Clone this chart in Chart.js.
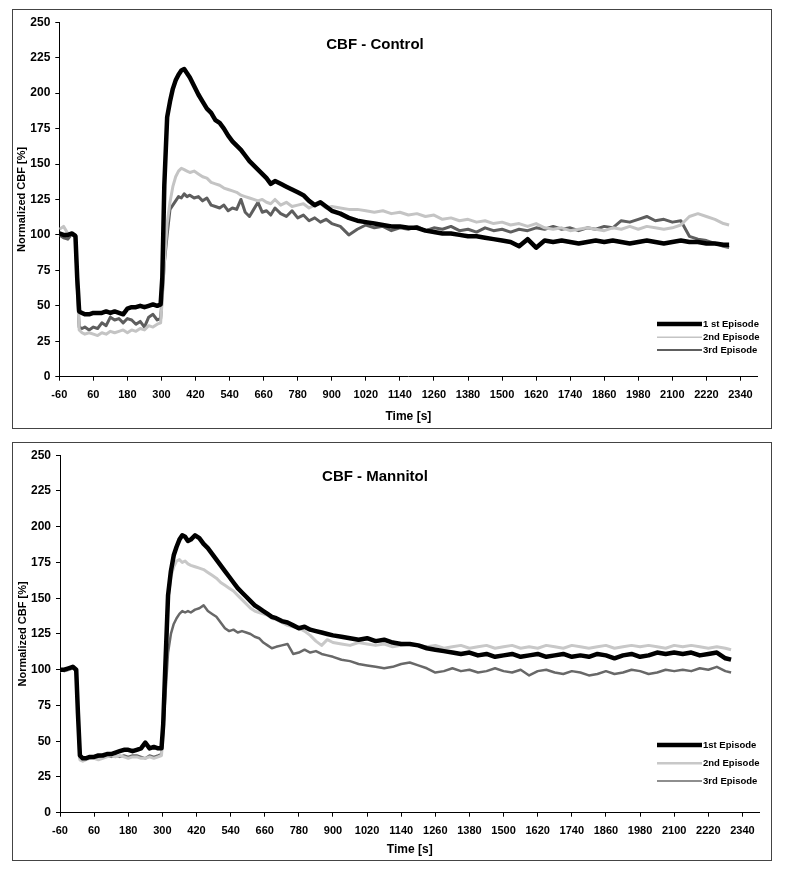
<!DOCTYPE html>
<html>
<head>
<meta charset="utf-8">
<script src="https://cdn.jsdelivr.net/npm/chart.js@4.4.1/dist/chart.umd.min.js"></script>
<style>
  body { margin: 0; background: #fff; width: 787px; height: 872px; position: relative; overflow: hidden; }
  .panel { position: absolute; left: 12px; width: 760px; border: 1px solid #444; box-sizing: border-box; background: #fff; }
  .panel canvas { display: block; }
</style>
</head>
<body>
<div class="panel" style="top:9px;height:420px"><canvas id="ctl" width="758" height="418"></canvas></div>
<div class="panel" style="top:442px;height:419px"><canvas id="man" width="758" height="417"></canvas></div>
<script>
// time axis shared by both panels (s)
const times = [
  -60, -45, -30, -15, -3, 3, 10, 20, 30, 45, 60, 75, 90, 105, 120, 135, 150, 165, 180, 195, 210, 225, 240, 255, 270, 285, 297, 303,
  310, 320, 330, 340, 350, 360, 370, 380, 390, 400, 415, 430, 445, 460, 475, 490, 505, 520, 535, 550,
  565, 580, 595, 610, 625, 640, 655, 670, 685, 700, 720, 740, 760, 780, 800, 820, 840, 860, 880, 900,
  930, 960, 990, 1020, 1050, 1080, 1110, 1140, 1170, 1200, 1230, 1260, 1290, 1320, 1350, 1380, 1410, 1440, 1470, 1500,
  1530, 1560, 1590, 1620, 1650, 1680, 1710, 1740, 1770, 1800, 1830, 1860, 1890, 1920, 1950, 1980, 2010, 2040, 2070, 2100,
  2130, 2160, 2190, 2220, 2250, 2280, 2300
];

const xTicks = [-60, 60, 180, 300, 420, 540, 660, 780, 900, 1020, 1140, 1260, 1380, 1500, 1620, 1740, 1860, 1980, 2100, 2220, 2340];
const yTicks = [0, 25, 50, 75, 100, 125, 150, 175, 200, 225, 250];

const ctlLabels = ['1 st Episode', '2nd Episode', '3rd Episode'];
const manLabels = ['1st Episode', '2nd Episode', '3rd Episode'];

// CBF - Control
const ctl1 = [
  101, 100, 100, 101, 99, 70, 46, 45, 44, 44, 45, 45, 45, 46, 45, 46, 45, 44, 48, 49, 49, 50, 49, 50, 51, 50, 51, 70,
  135, 183, 194, 203, 209, 213, 216, 217, 214, 211, 205, 199, 194, 189, 186, 181, 179, 175, 170, 166,
  163, 160, 156, 152, 149, 146, 143, 140, 136, 138, 136, 134, 132, 130, 128, 124, 121, 123, 120, 117,
  115, 112, 110, 109, 108, 107, 106, 106, 105, 105, 103, 102, 101, 101, 100, 99, 99, 98, 97, 96,
  95, 92, 97, 91, 96, 95, 96, 95, 94, 95, 96, 95, 96, 95, 94, 95, 96, 95, 94, 95,
  96, 95, 95, 94, 94, 93, 93
];
const ctl2 = [
  104, 106, 101, 100, 99, 65, 33, 31, 30, 31, 30, 29, 31, 30, 32, 31, 32, 33, 31, 33, 32, 34, 33, 36, 35, 37, 38, 55,
  80, 108, 123, 134, 141, 145, 147, 146, 145, 144, 145, 143, 141, 140, 137, 136, 135, 133, 132, 131,
  130, 128, 127, 126, 125, 124, 125, 123, 122, 125, 121, 123, 120, 121, 122, 119, 121, 122, 119, 120,
  119, 118, 118, 117, 116, 117, 115, 116, 114, 115, 113, 114, 111, 112, 110, 111, 109, 110, 108, 109,
  107, 108, 106, 108, 105, 104, 105, 103, 104, 105, 104, 103, 105, 104, 106, 104, 106, 105, 104, 105,
  107, 113, 115, 113, 111, 108, 107
];
const ctl3 = [
  100, 98, 97, 101, 100, 66, 35, 34, 35, 33, 35, 34, 38, 36, 42, 40, 41, 38, 41, 40, 37, 39, 35, 42, 44, 40, 41, 58,
  80, 100, 118, 121, 124, 127, 126, 129, 127, 128, 126, 127, 124, 126, 121, 120, 119, 121, 117, 119,
  118, 125, 116, 113, 118, 123, 116, 117, 114, 119, 115, 113, 117, 112, 114, 110, 112, 109, 111, 108,
  106, 100, 104, 107, 105, 106, 103, 105, 104, 106, 103, 105, 104, 106, 103, 104, 102, 105, 103, 104,
  102, 104, 103, 105, 104, 106, 104, 105, 103, 105, 104, 106, 105, 110, 109, 111, 113, 110, 111, 109,
  110, 99, 97, 96, 94, 92, 91
];

// CBF - Mannitol
const man1 = [
  100, 100, 101, 102, 100, 70, 40, 38, 38, 39, 39, 40, 40, 41, 41, 42, 43, 44, 44, 43, 44, 45, 49, 45, 46, 45, 45, 62,
  100, 152, 169, 180, 186, 191, 194, 193, 190, 191, 194, 192, 188, 185, 181, 177, 173, 169, 165, 161,
  157, 154, 151, 148, 145, 143, 141, 139, 137, 136, 134, 133, 131, 129, 130, 128, 127, 126, 125, 124,
  123, 122, 121, 122, 120, 121, 119, 118, 118, 117, 115, 114, 113, 112, 111, 112, 110, 111, 109, 110,
  111, 109, 110, 111, 109, 110, 111, 109, 110, 109, 111, 110, 108, 110, 111, 109, 110, 112, 111, 112,
  111, 112, 110, 111, 112, 108, 107
];
const man2 = [
  99, 100, 100, 102, 100, 68, 37, 36, 37, 38, 38, 37, 38, 39, 40, 39, 40, 39, 38, 39, 39, 38, 38, 39, 38, 39, 40, 56,
  95, 150, 165, 172, 176, 177, 175, 176, 174, 173, 172, 171, 170, 168, 166, 164, 161, 159, 157, 155,
  152, 149, 146, 143, 141, 140, 139, 138, 136, 135, 133, 131, 130, 129, 127, 124, 120, 117, 121, 119,
  118, 117, 119, 118, 117, 118, 116, 117, 118, 117, 116, 117, 115, 116, 117, 115, 116, 117, 115, 116,
  117, 115, 116, 115, 117, 116, 115, 117, 116, 115, 116, 117, 115, 116, 117, 116, 117, 116, 115, 117,
  116, 117, 116, 115, 116, 115, 114
];
const man3 = [
  100, 99, 100, 101, 99, 67, 38, 37, 38, 38, 39, 38, 39, 40, 39, 40, 39, 40, 39, 40, 40, 39, 38, 40, 39, 40, 41, 57,
  80, 112, 125, 132, 136, 139, 141, 140, 141, 140, 142, 143, 145, 141, 139, 137, 133, 129, 127, 128,
  126, 127, 126, 125, 123, 122, 119, 117, 115, 116, 117, 118, 111, 112, 114, 112, 113, 111, 110, 109,
  107, 106, 104, 103, 102, 101, 102, 104, 105, 103, 101, 98, 99, 101, 99, 100, 98, 99, 101, 99,
  98, 100, 96, 99, 100, 98, 97, 99, 98, 96, 97, 99, 97, 98, 100, 99, 97, 98, 100, 99,
  100, 99, 101, 100, 102, 99, 98
];

const FONT = '"Liberation Sans", Arial, Helvetica, sans-serif';
Chart.defaults.font.family = FONT;
Chart.defaults.color = '#000';

// title inside the plot and the legend at the lower right
const overlay = {
  id: 'overlay',
  afterDatasetsDraw(chart, args, o) {
    const { ctx, chartArea: a } = chart;
    ctx.save();
    ctx.fillStyle = '#000';
    ctx.font = 'bold 15px ' + FONT;
    ctx.textAlign = 'center';
    ctx.textBaseline = 'middle';
    ctx.fillText(o.title, a.left + o.titleX, a.top + o.titleY);

    ctx.font = 'bold 9.5px ' + FONT;
    ctx.textAlign = 'left';
    chart.data.datasets.forEach((ds, i) => {
      const y = a.bottom - o.rows[i];
      ctx.strokeStyle = ds.borderColor;
      ctx.lineWidth = o.widths[i];
      ctx.beginPath();
      ctx.moveTo(a.left + o.lineX0, y);
      ctx.lineTo(a.left + o.lineX1, y);
      ctx.stroke();
      ctx.fillText(ds.label, a.left + o.lineX1 + 1, y);
    });
    ctx.restore();
  }
};

function makeChart(id, series, labels, c) {
  return new Chart(document.getElementById(id), {
    type: 'line',
    data: {
      datasets: series.map((vals, i) => ({
        label: labels[i],
        data: times.map((t, j) => ({ x: t, y: vals[j] })),
        borderColor: c.colors[i],
        borderWidth: c.lineWidths[i],
        pointRadius: 0,
        tension: 0,
        borderJoinStyle: 'round',
        fill: false
      }))
    },
    options: {
      responsive: false,
      animation: false,
      events: [],
      layout: { padding: { top: c.padTop, right: c.padRight, left: 0, bottom: 0 } },
      plugins: {
        legend: { display: false },
        tooltip: { enabled: false },
        overlay: c.overlay
      },
      scales: {
        x: {
          type: 'linear',
          min: -60,
          max: 2400,
          afterBuildTicks: s => { s.ticks = xTicks.map(v => ({ value: v })); },
          afterFit: s => { s.height = c.xHeight; },
          grid: { drawOnChartArea: false, tickLength: 4, color: '#000' },
          border: { color: '#000' },
          ticks: { autoSkip: false, maxRotation: 0, padding: 8, font: { size: 11, weight: 'bold' }, callback: v => String(v) },
          title: { display: true, text: 'Time [s]', font: { size: 12, weight: 'bold' }, padding: { top: 0, bottom: c.xTitlePad } }
        },
        y: {
          min: 0,
          max: 250,
          afterBuildTicks: s => { s.ticks = yTicks.map(v => ({ value: v })); },
          afterFit: s => { s.width = c.yWidth; },
          grid: { drawOnChartArea: false, tickLength: 4, color: '#000' },
          border: { color: '#000' },
          ticks: { padding: 5, font: { size: 12, weight: 'bold' }, callback: v => String(v) },
          title: { display: true, text: 'Normalized CBF [%]', font: { size: 11, weight: 'bold' }, padding: { top: c.yTitlePad, bottom: 0 } }
        }
      }
    },
    plugins: [overlay]
  });
}

makeChart('ctl', [ctl1, ctl2, ctl3], ctlLabels, {
  colors: ['#000000', '#c4c4c4', '#5e5e5e'],
  lineWidths: [4.5, 3, 3],
  padTop: 10.7, padRight: 13.5, xHeight: 51.3, yWidth: 46.3,
  xTitlePad: 4, yTitlePad: 2.4,
  overlay: { title: 'CBF - Control', titleX: 315.7, titleY: 22.6, rows: [52.7, 39.4, 26.7], widths: [4.5, 1.5, 2], lineX0: 597.7, lineX1: 642.7 }
});

makeChart('man', [man1, man2, man3], manLabels, {
  colors: ['#000000', '#c8c8c8', '#686868'],
  lineWidths: [4.5, 3, 2.5],
  padTop: 11, padRight: 11.5, xHeight: 47.3, yWidth: 47,
  xTitlePad: 2.8, yTitlePad: 3.7,
  overlay: { title: 'CBF - Mannitol', titleX: 315, titleY: 22, rows: [67.7, 49.4, 31.7], widths: [4.5, 2.5, 1.5], lineX0: 597, lineX1: 642 }
});
</script>
</body>
</html>
